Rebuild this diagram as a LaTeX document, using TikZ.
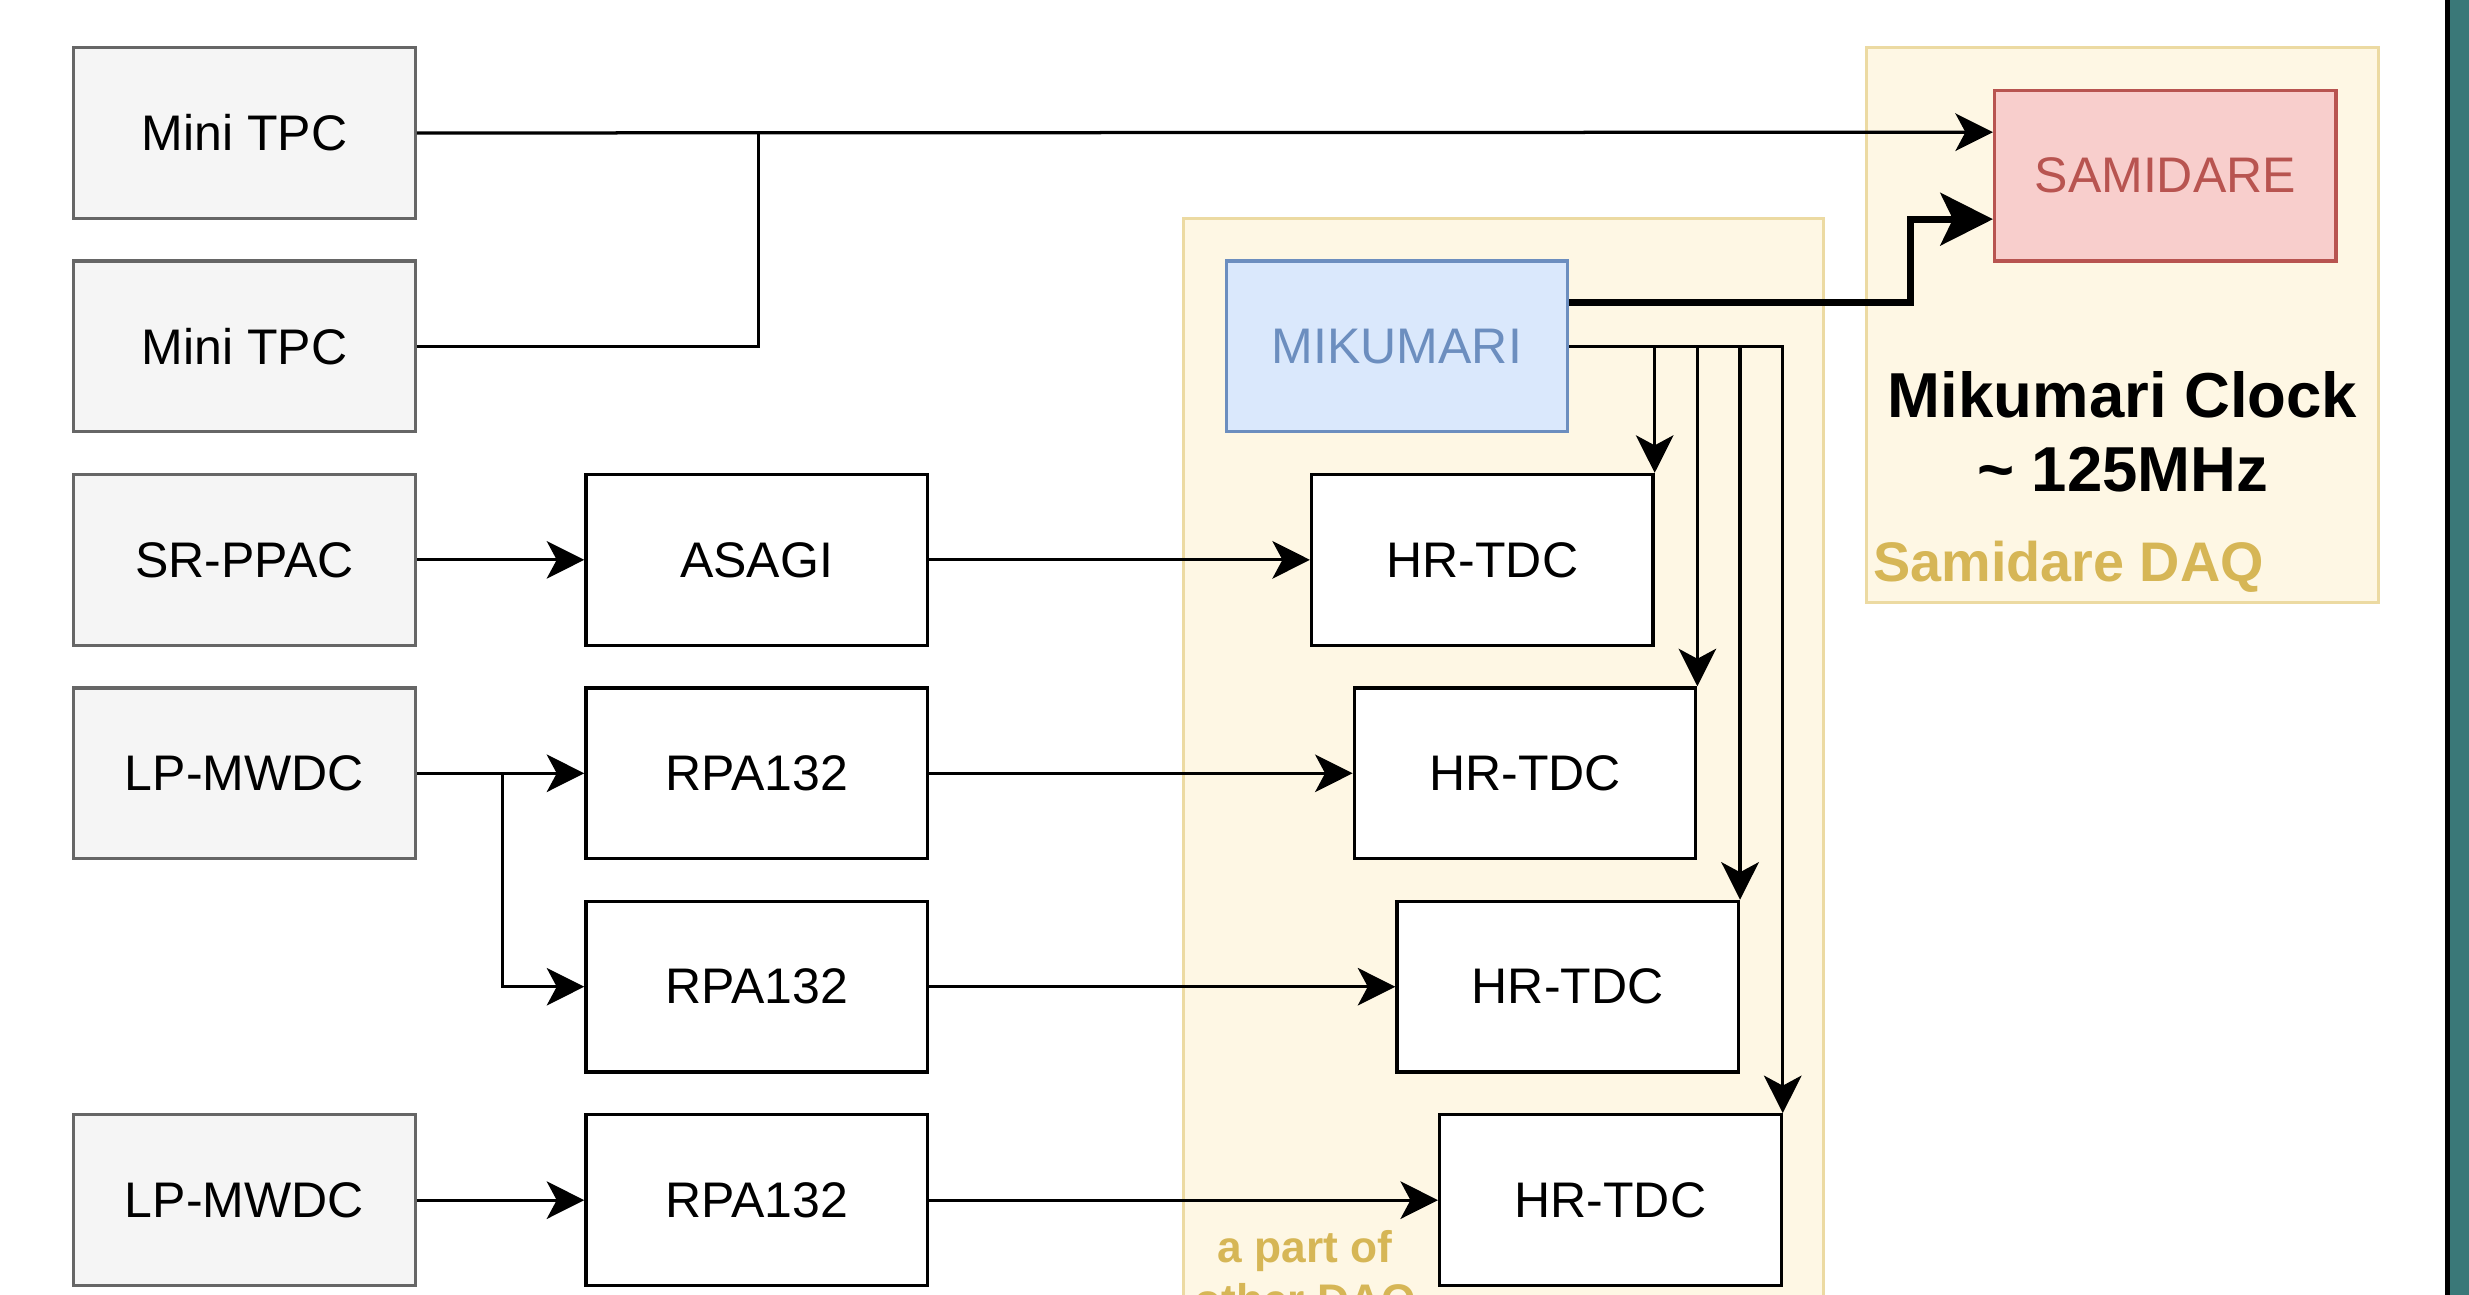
\documentclass[tikz,border=0pt]{standalone}
\usepackage{fontspec}
\setmainfont{Liberation Sans}
\usetikzlibrary{arrows.meta, positioning, calc}
\definecolor{cSrcFill}{HTML}{F5F5F5}
\definecolor{cSrcLine}{HTML}{666666}
\definecolor{cMikFill}{HTML}{DAE8FC}
\definecolor{cMikLine}{HTML}{6C8EBF}
\definecolor{cSamFill}{HTML}{F8CECC}
\definecolor{cSamLine}{HTML}{B85450}
\definecolor{cGrpFill}{HTML}{FEF7E4}
\definecolor{cGrpLine}{HTML}{ECDAA2}
\definecolor{cGrpText}{HTML}{D6B656}
\definecolor{cTeal}{HTML}{3A7878}
\tikzset{
	srcbox/.style ={rectangle, minimum width=4.8cm, minimum height=2.4cm, align=center, draw=cSrcLine, fill=cSrcFill, line width=1.3pt, font=\fontsize{20}{24}\selectfont},
	blk/.style    ={rectangle, minimum width=4.8cm, minimum height=2.4cm, align=center, draw=black, fill=white, line width=1.3pt, font=\fontsize{20}{24}\selectfont},
	mikbox/.style ={blk, draw=cMikLine, fill=cMikFill, text=cMikLine},
	sambox/.style ={blk, draw=cSamLine, fill=cSamFill, text=cSamLine},
	grp/.style    ={draw=cGrpLine, fill=cGrpFill, line width=1.1pt},
	grplabel/.style={text=cGrpText, inner sep=0pt, font=\bfseries\fontsize{22.3}{26}\selectfont},
	% connectors
	link/.style   ={line width=1.3pt},
	sig/.style    ={-{Stealth[length=15pt, width=15pt, inset=4pt]}, line width=1.3pt},
	clk/.style    ={-{Stealth[length=21pt, width=21pt, inset=5pt]}, line width=2.8pt},
}
\begin{document}
\begin{tikzpicture}[x=0.03cm, y=-0.03cm]
	\useasboundingbox (-34.5,-22.3) rectangle (1122.3,584.3);
	% DAQ groups
	\draw[grp] (520,80) rectangle (820,640);
	\draw[grp] (840,0) rectangle (1080,260);
	\node[grplabel, anchor=base west] (samLbl) at (843,250.2) {Samidare DAQ};
	\node[grplabel, align=center, font=\bfseries\fontsize{17.7}{21}\selectfont] (othLbl) at (577,576.2) {a part of\\other DAQ};
	\node[align=center, inner sep=0pt, font=\bfseries\fontsize{25.4}{29.6}\selectfont] (clkLbl) at (960,180) {Mikumari Clock\\\textasciitilde{} 125MHz};
	% detectors
	\node[srcbox] (tpcA) at (80,40)  {Mini TPC};
	\node[srcbox] (tpcB) at (80,140) {Mini TPC};
	\node[srcbox] (ppac) at (80,240) {SR-PPAC};
	\node[srcbox] (lpA)  at (80,340) {LP-MWDC};
	\node[srcbox] (lpB)  at (80,540) {LP-MWDC};
	% front ends
	\node[blk] (asagi) at (320,240) {ASAGI};
	\node[blk] (rpaA)  at (320,340) {RPA132};
	\node[blk] (rpaB)  at (320,440) {RPA132};
	\node[blk] (rpaC)  at (320,540) {RPA132};
	% digitizers
	\node[blk] (tdcA) at (660,240) {HR-TDC};
	\node[blk] (tdcB) at (680,340) {HR-TDC};
	\node[blk] (tdcC) at (700,440) {HR-TDC};
	\node[blk] (tdcD) at (720,540) {HR-TDC};
	\node[mikbox] (mik) at (620,140) {MIKUMARI};
	\node[sambox] (sam) at (980,60)  {SAMIDARE};
	% right edge strip
	\fill[black] (1111.2,-22.3) rectangle (1113.5,584.3);
	\fill[cTeal] (1113.5,-22.3) rectangle (1122.3,584.3);
	% connections
	\coordinate (samTop) at ($(sam.north west)!0.25!(sam.south west)$);
	\coordinate (samBot) at ($(sam.north west)!0.75!(sam.south west)$);
	\coordinate (mikOut) at ($(mik.north east)!0.25!(mik.south east)$);
	\draw[sig] (tpcA.east) -- (samTop);
	\draw[link] (tpcB.east) -- ++(160,0) -- ++(0,-100);
	\draw[clk] (mikOut) -- ++(160,0) |- (samBot);
	\foreach \t in {tdcD,tdcC,tdcB,tdcA}
		\draw[sig] (mik.east) -| (\t.north east);
	\draw[sig] (ppac.east) -- (asagi.west);
	\draw[sig] (asagi.east) -- (tdcA.west);
	\draw[sig] (lpA.east) -- (rpaA.west);
	\draw[sig] (lpA.east) ++(40,0) |- (rpaB.west);
	\draw[sig] (rpaA.east) -- (tdcB.west);
	\draw[sig] (rpaB.east) -- (tdcC.west);
	\draw[sig] (lpB.east) -- (rpaC.west);
	\draw[sig] (rpaC.east) -- (tdcD.west);
\end{tikzpicture}
\end{document}
